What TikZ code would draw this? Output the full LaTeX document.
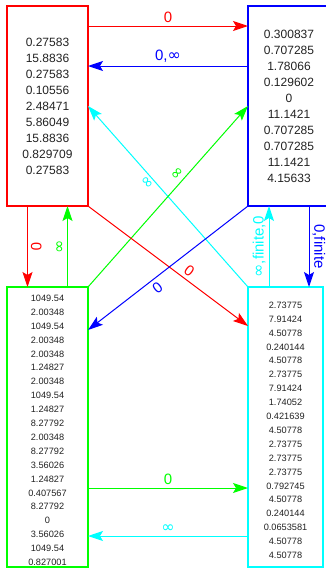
\documentclass[tikz,border=0pt]{standalone}
\usepackage{fontspec}
\setmainfont{Liberation Sans}
\newfontfamily\symfont{DejaVu Sans}
\usepackage{tikz}
\usetikzlibrary{positioning, arrows.meta, calc}
\definecolor{gred}{HTML}{FF0000}
\definecolor{ggreen}{HTML}{00FF00}
\definecolor{gblue}{HTML}{0000FF}
\definecolor{gcyan}{HTML}{00FFFF}
\definecolor{ink}{HTML}{222222}
\newcommand{\infsym}{{\symfont\fontsize{16}{16}\selectfont ∞}}
\newcommand{\topgap}{\rule{0pt}{13pt}}

\begin{document}
\begin{tikzpicture}[x=1pt,y=-1pt,node distance=160pt]
    \tikzset{bx/.style={draw,line width=1.8pt,outer sep=0pt,inner sep=0pt,align=center,text=ink,font=\fontsize{12}{16}\selectfont,minimum width=81pt,minimum height=200pt}, sm/.style={font=\fontsize{9.2}{13.9}\selectfont,minimum height=280pt}, e/.style={line width=1pt,-{Stealth[length=15pt,width=10pt,inset=3pt]}}, lb/.style={font=\fontsize{15}{18}\selectfont,inner sep=3pt,sloped}}
    \useasboundingbox (0,0) rectangle (326,568);
    \node[bx,draw=gred] (red) at (47.5,106) {0.27583\\15.8836\\0.27583\\0.10556\\2.48471\\5.86049\\15.8836\\0.829709\\0.27583};
      \node[bx,draw=gblue,minimum width=82pt,right=of red] (blue) {0.300837\\0.707285\\1.78066\\0.129602\\0\\11.1421\\0.707285\\0.707285\\11.1421\\4.15633};
    \node[bx,sm,draw=ggreen,below=81pt of red] (grn) {\topgap 1049.54\\2.00348\\1049.54\\2.00348\\2.00348\\1.24827\\2.00348\\1049.54\\1.24827\\8.27792\\2.00348\\8.27792\\3.56026\\1.24827\\0.407567\\8.27792\\0\\3.56026\\1049.54\\0.827001};
    \node[bx,sm,draw=gcyan,minimum width=75pt,right=of grn] (cyn) {\topgap 2.73775\\7.91424\\4.50778\\0.240144\\4.50778\\2.73775\\7.91424\\1.74052\\0.421639\\4.50778\\2.73775\\2.73775\\2.73775\\0.792745\\4.50778\\0.240144\\0.0653581\\4.50778\\4.50778};
    \draw[e,gred] ([yshift=80pt]red.east) -- node[lb,above]{0} ([yshift=80pt]blue.west);
    \draw[e,gblue] ([yshift=40pt]blue.west) -- node[lb,above]{0,\infsym} ([yshift=40pt]red.east);
    \draw[e,gcyan] (cyn.north west) -- node[lb,below,pos=0.6]{\infsym} (red.east);
    \draw[e,ggreen] (grn.north east) -- node[lb,above,pos=0.6]{\infsym} (blue.west);
    \draw[e,gred] (red.south east) -- node[lb,above,pos=0.6]{0} ([yshift=101pt]cyn.west);
    \draw[e,gblue] (blue.south west) -- node[lb,below,pos=0.6]{0} ([yshift=97pt]grn.east);
    \draw[e,gred] ([xshift=-20pt]red.south) -- node[lb,above]{0} ([xshift=-20pt]grn.north);
    \draw[e,ggreen] ([xshift=20pt]grn.north) -- node[lb,above]{\infsym} ([xshift=20pt]red.south);
    \draw[e,gcyan] ([xshift=-20pt]blue.south |- cyn.north) -- node[lb,above]{\infsym,finite,0} ([xshift=-20pt]blue.south);
    \draw[e,gblue] ([xshift=20pt]blue.south) -- node[lb,above]{0,finite} ([xshift=20pt]blue.south |- cyn.north);
    \draw[e,ggreen] ([yshift=-61pt]grn.east) -- node[lb,above]{0} ([yshift=-61pt]cyn.west);
    \draw[e,gcyan] ([yshift=-109pt]cyn.west) -- node[lb,above]{\infsym} ([yshift=-109pt]grn.east);
  \end{tikzpicture}
\end{document}
